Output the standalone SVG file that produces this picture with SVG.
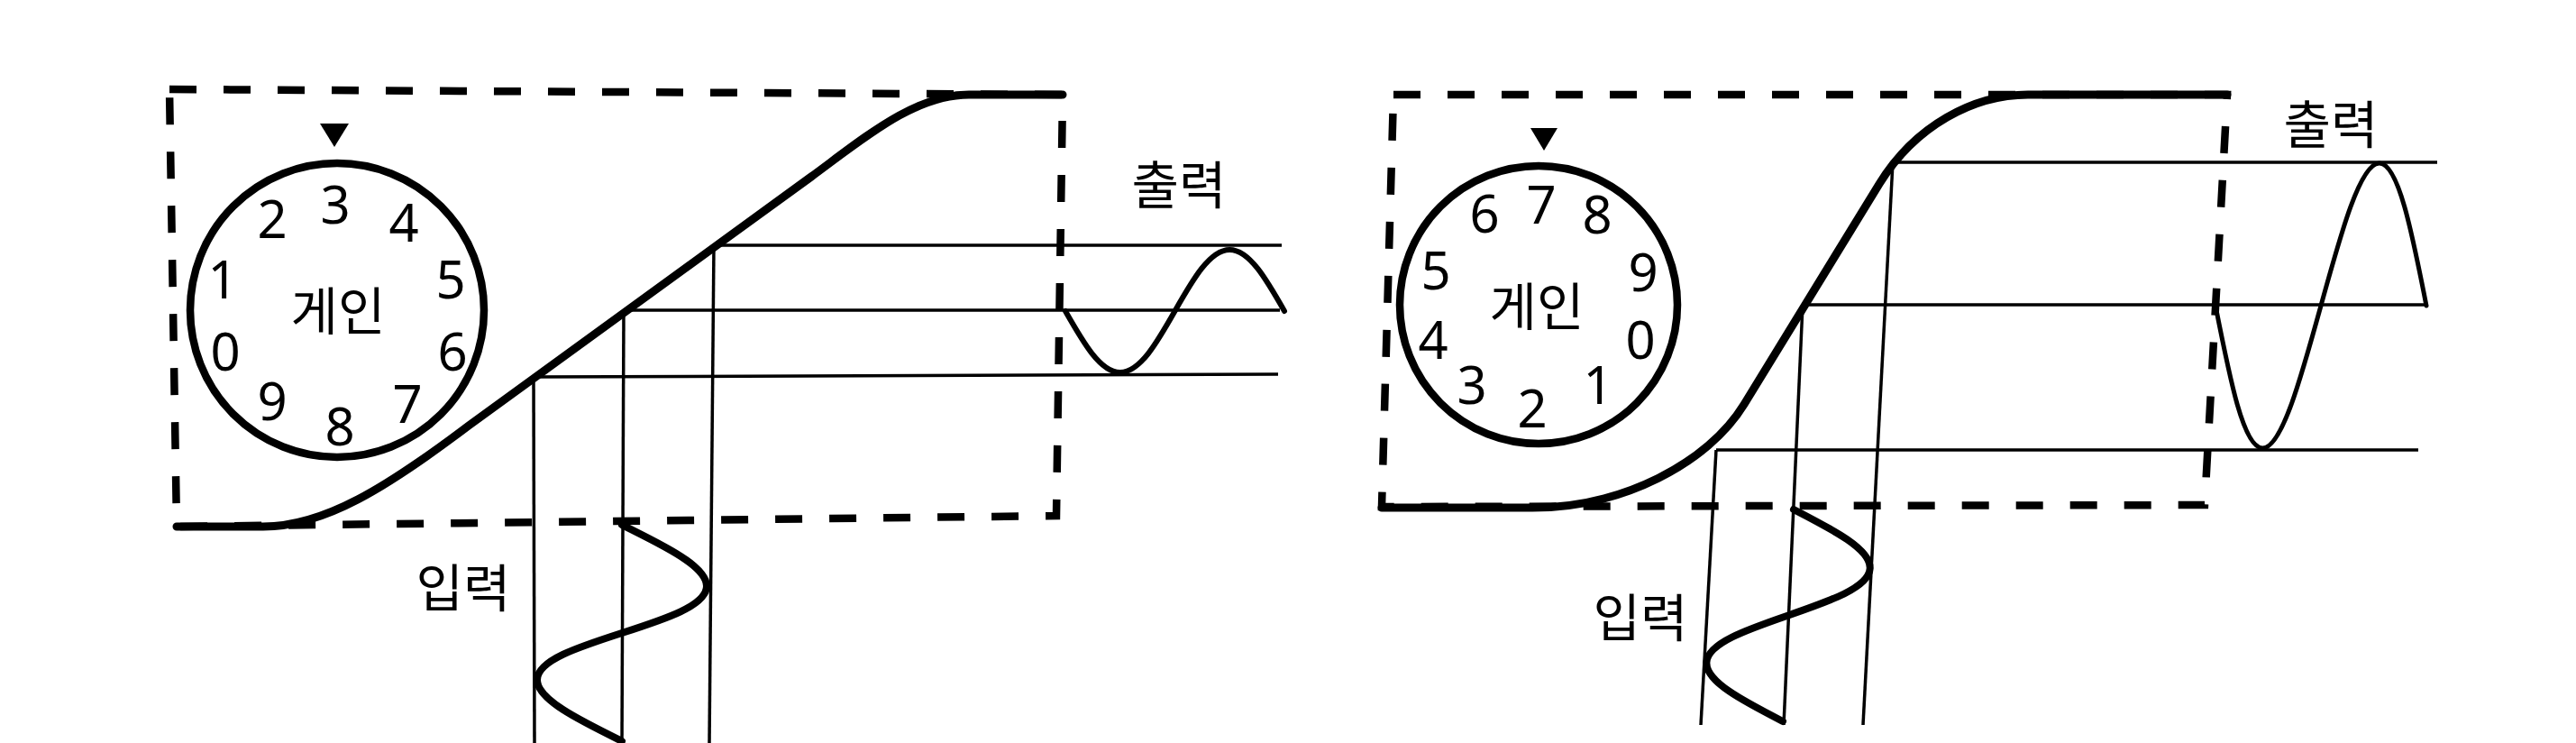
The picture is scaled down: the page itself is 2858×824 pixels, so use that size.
<svg xmlns="http://www.w3.org/2000/svg" width="2858" height="824" viewBox="0 0 2858 824">
<style>
.box{fill:none;stroke:#000;stroke-width:8.5;stroke-dasharray:30 30}
.curve{fill:none;stroke:#000;stroke-width:9;stroke-linejoin:round;stroke-linecap:round}
.dial{fill:none;stroke:#000;stroke-width:8.5}
.proj{fill:none;stroke:#000;stroke-width:3.5}
.sig{fill:none;stroke:#000;stroke-linecap:round}
.num{font-family:"Noto Sans","Noto Sans CJK KR",sans-serif;font-size:58px;fill:#000;text-anchor:middle}
.kr{font-family:"Noto Sans CJK KR","Noto Sans",sans-serif;font-size:57px;fill:#000;text-anchor:middle}
</style>
<rect width="2858" height="824" fill="#fff"/>

<g id="left-box"><path class="box" d="M188 99 L1179 105 L1172 572 L196 584 Z"/></g>
<g id="right-box"><path class="box" d="M1546 105 L2471 105 L2446 560 L1533 562 Z"/></g>

<g id="connectors">
  <line class="proj" x1="792" y1="272" x2="1422" y2="272"/>
  <line class="proj" x1="692" y1="344" x2="1420" y2="344"/>
  <line class="proj" x1="592" y1="418" x2="1418" y2="415"/>
  <line class="proj" x1="792" y1="272" x2="787" y2="824"/>
  <line class="proj" x1="692" y1="345" x2="690" y2="824"/>
  <line class="proj" x1="592" y1="418" x2="593" y2="824"/>

  <line class="proj" x1="2100" y1="180" x2="2704" y2="180"/>
  <line class="proj" x1="2000" y1="338" x2="2692" y2="338"/>
  <line class="proj" x1="1904" y1="499" x2="2683" y2="499"/>
  <line class="proj" x1="2100" y1="180" x2="2067" y2="804"/>
  <line class="proj" x1="2000" y1="338" x2="1979" y2="804"/>
  <line class="proj" x1="1904" y1="499" x2="1887" y2="804"/>
</g>

<g id="left-transfer-curve">
  <path class="curve" d="M196 584 L292 584 C360 584 430 540 520 472 L900 196 C960 152 1015 105 1075 105 L1179 105"/>
</g>
<g id="right-transfer-curve">
  <path class="curve" d="M1533 563 L1700 563 C1800 563 1895 513.6 1935 448.5 L2085 204 C2125 139 2190 105 2250 105 L2471 105"/>
</g>

<g id="left-gain-dial">
  <circle class="dial" cx="374" cy="344" r="163"/>
  <polygon points="355,137 387,137 371,163" fill="#000"/>
  <text class="num" x="372" y="248">3</text>
  <text class="num" x="302" y="264">2</text>
  <text class="num" x="448" y="268">4</text>
  <text class="num" x="247" y="331">1</text>
  <text class="num" x="500" y="331">5</text>
  <text class="num" x="250" y="411">0</text>
  <text class="num" x="502" y="411">6</text>
  <text class="num" x="302" y="466">9</text>
  <text class="num" x="377" y="494">8</text>
  <text class="num" x="452" y="469">7</text>
  <text class="kr" x="375" y="366">게인</text>
</g>

<g id="right-gain-dial">
  <circle class="dial" cx="1707" cy="338" r="154"/>
  <polygon points="1698,142 1728,142 1713,167" fill="#000"/>
  <text class="num" x="1710" y="248">7</text>
  <text class="num" x="1647" y="258">6</text>
  <text class="num" x="1772" y="259">8</text>
  <text class="num" x="1593" y="321">5</text>
  <text class="num" x="1823" y="323">9</text>
  <text class="num" x="1590" y="398">4</text>
  <text class="num" x="1820" y="398">0</text>
  <text class="num" x="1633" y="448">3</text>
  <text class="num" x="1700" y="474">2</text>
  <text class="num" x="1773" y="448">1</text>
  <text class="kr" x="1705" y="361">게인</text>
</g>

<g id="left-input">
  <path class="sig" stroke-width="8" d="M690 582 C738.1 605.7 784 628.3 784 650 C784 671.7 738.1 686.5 690 702 C641.9 717.5 596 732.3 596 754 C596 775.7 641.9 798.3 690 822"/>
  <text class="kr" x="514" y="673">입력</text>
</g>
<g id="left-output">
  <path class="sig" stroke-width="6" d="M1182 345 C1201.8 379.8 1220.8 413 1242.75 413 C1264.75 413 1283.7 379.8 1303.5 345 C1323.3 310.2 1342.3 277 1364.25 277 C1386.25 277 1405.2 310.2 1425 345"/>
  <text class="kr" x="1308" y="226">출력</text>
</g>

<g id="right-input">
  <path class="sig" stroke-width="8" d="M1990 565 C2033.9 587.6 2075.8 609.1 2074.7 630.4 C2073.6 651.6 2029.9 666.7 1984 682.5 C1938.1 698.3 1894.4 713.4 1893.4 734.6 C1892.3 755.9 1934.1 777.4 1978 800"/>
  <text class="kr" x="1820" y="706">입력</text>
</g>
<g id="right-output">
  <path class="sig" stroke-width="5" d="M2458 339 C2473.9 419.9 2489 497 2510.2 497 C2531.4 497 2552.7 419.9 2575 339 C2597.3 258.1 2618.6 181 2639.8 181 C2661 181 2676.1 258.1 2692 339"/>
  <text class="kr" x="2586" y="159">출력</text>
</g>
</svg>
